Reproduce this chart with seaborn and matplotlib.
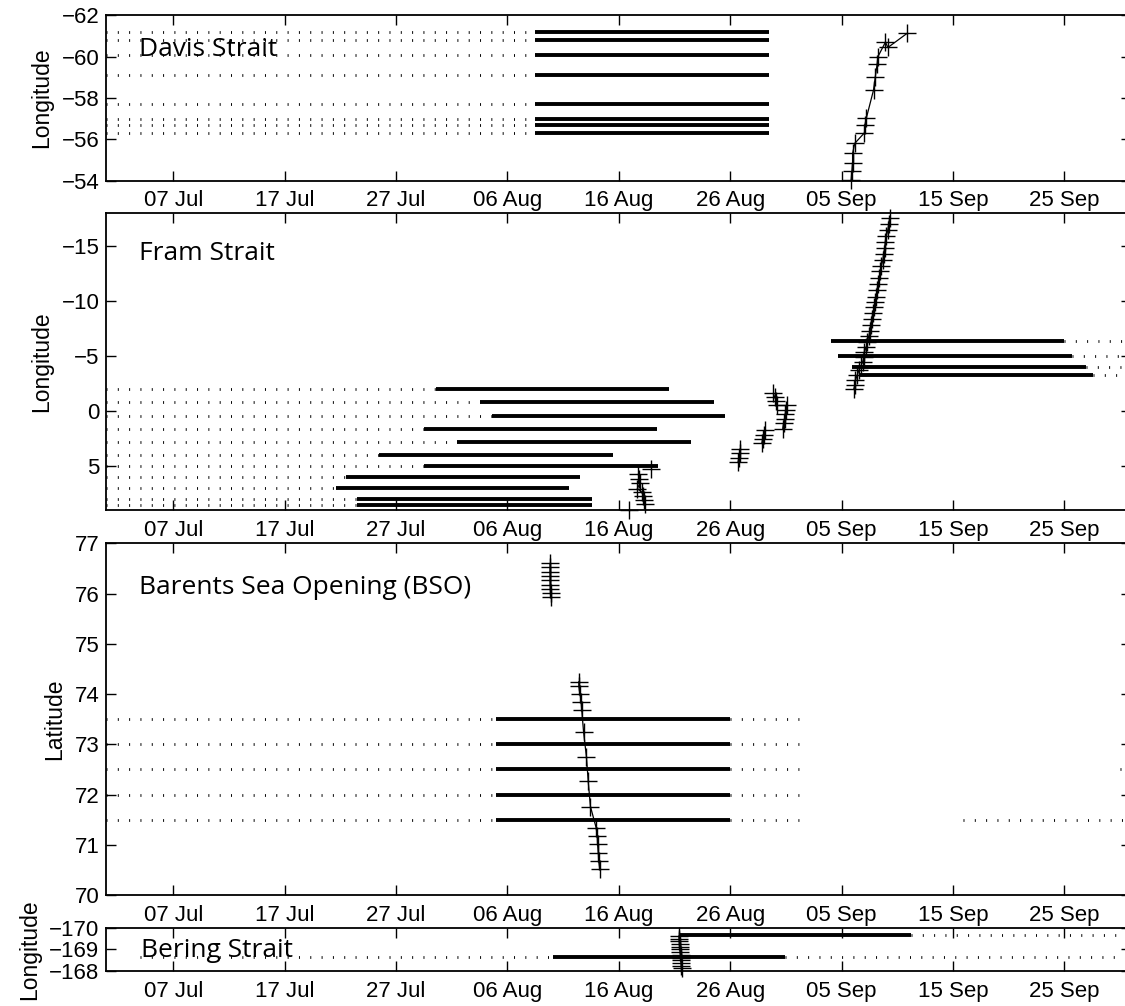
import numpy as np
import matplotlib
matplotlib.use("Agg")
import matplotlib.pyplot as plt
import matplotlib.dates as mdates
from matplotlib.ticker import FixedLocator
import seaborn as sns

sns.set_theme(style="ticks")
plt.rcParams["font.family"] = ["Liberation Sans", "DejaVu Sans"]
plt.rcParams["lines.scale_dashes"] = False
plt.rcParams["axes.unicode_minus"] = True

# ---------------------------------------------------------------------------
# Time axis: days after 1 July 2008
# ---------------------------------------------------------------------------
T0 = "2008-07-01"
X_RANGE = [0.0, 92.0]
TICK_DATES = ["2008-07-07", "2008-07-17", "2008-07-27", "2008-08-06",
              "2008-08-16", "2008-08-26", "2008-09-05", "2008-09-15",
              "2008-09-25"]

# ---------------------------------------------------------------------------
# Davis Strait moorings (longitude) and ship section
# ---------------------------------------------------------------------------
davis_lon = [-61.2, -60.8, -60.1, -59.1, -57.7, -57.0, -56.7, -56.3]
davis_lead = [0.0, 0.0, 0.0, 0.0, 0.0, 0.0, 0.0, 0.0]
davis_on = [38.5, 38.5, 38.5, 38.5, 38.5, 38.5, 38.5, 38.5]
davis_off = [59.5, 59.5, 59.5, 59.5, 59.5, 59.5, 59.5, 59.5]
davis_tail = [None, None, None, None, None, None, None, None]

davis_ship_day = [66.85, 66.92, 66.98, 66.98, 67.18, 68.05, 68.08, 68.21,
                  68.86, 69.02, 69.18, 69.25, 69.93, 70.15, 71.86]
davis_ship_lon = [-54.03, -54.48, -54.87, -55.32, -55.81, -56.32, -56.69,
                  -57.02, -58.39, -59.03, -59.63, -60.0, -60.71, -60.45,
                  -61.13]

# ---------------------------------------------------------------------------
# Fram Strait moorings (longitude) and ship sections
# ---------------------------------------------------------------------------
fram_lon = [-2.0, -0.8, 0.4, 1.6, 2.8, 4.0, 5.0, 6.0, 7.0, 8.0, 8.55,
            -6.4, -5.0, -4.05, -3.3]
fram_lead = [0.0, 0.0, 0.0, 0.0, 0.0, 0.0, 0.0, 0.0, 0.0, 0.0, 0.0,
             None, None, None, None]
fram_on = [29.6, 33.5, 34.6, 28.5, 31.5, 24.5, 28.55, 21.55, 20.6, 22.5, 22.5,
           65.05, 65.7, 66.9, 67.55]
fram_off = [50.5, 54.5, 55.55, 49.45, 52.45, 45.5, 49.5, 42.5, 41.55, 43.55,
            43.55, 86.0, 86.65, 87.9, 88.6]
fram_tail = [None, None, None, None, None, None, None, None, None, None, None,
             92.0, 92.0, 92.0, 92.0]

fram_ship_days = [
    [67.08, 67.18, 67.24, 67.40, 67.56, 67.73, 67.89, 67.99, 68.05, 68.21,
     68.31, 68.44, 68.53, 68.60, 68.70, 68.79, 68.92, 69.02, 69.12, 69.18,
     69.25, 69.38, 69.47, 69.57, 69.70, 69.76, 69.86, 69.93, 70.02, 70.15,
     70.22, 70.31],
    [56.90, 56.83, 56.77, 56.70],
    [59.09, 59.00, 58.90, 58.84],
    [59.87, 60.00, 60.13, 60.23],
    [61.10, 61.03, 60.94, 60.87, 60.78, 60.71],
    [48.89],
    [47.75, 47.84, 47.90, 47.66, 48.05, 48.20, 48.29, 48.38],
    [46.94],
]
fram_ship_lons = [
    [-1.98, -2.37, -2.83, -3.28, -3.74, -4.13, -4.50, -4.95, -5.41, -5.87,
     -6.32, -6.84, -7.33, -7.84, -8.36, -8.91, -9.45, -9.97, -10.43, -11.03,
     -11.58, -12.10, -12.71, -13.22, -13.77, -14.32, -14.83, -15.44, -15.96,
     -16.50, -17.05, -17.57],
    [3.40, 3.80, 4.22, 4.62],
    [1.73, 2.13, 2.52, 2.89],
    [-1.61, -1.25, -0.88, -0.52],
    [-0.55, -0.15, 0.27, 0.67, 1.12, 1.58],
    [5.22],
    [5.74, 6.14, 6.53, 7.05, 7.36, 7.75, 8.11, 8.48],
    [8.96],
]

# ---------------------------------------------------------------------------
# Barents Sea Opening moorings (latitude) and ship sections
# ---------------------------------------------------------------------------
bso_lat = [73.5, 73.0, 72.5, 72.0, 71.5, 71.5, 72.5]
bso_lead = [0.0, 0.0, 0.0, 0.0, 0.0, None, None]
bso_on = [35.0, 35.0, 35.0, 35.0, 35.0, None, None]
bso_off = [56.0, 56.0, 56.0, 56.0, 56.0, 76.9, 91.0]
bso_tail = [63.0, 63.0, 63.0, 63.0, 63.0, 92.0, 92.0]

bso_ship_days = [
    [39.83, 39.84, 39.84, 39.85, 39.85, 39.86, 39.86, 39.87, 39.87],
    [42.41, 42.41, 42.51, 42.61, 42.67, 42.83, 43.09, 43.25, 43.45, 43.96,
     44.06, 44.09, 44.16, 44.19, 44.29],
]
bso_ship_lats = [
    [76.60, 76.52, 76.43, 76.35, 76.27, 76.18, 76.10, 76.02, 75.94],
    [74.25, 74.16, 74.01, 73.85, 73.68, 73.25, 72.75, 72.26, 71.76, 71.34,
     71.17, 71.01, 70.84, 70.68, 70.51],
]

# ---------------------------------------------------------------------------
# Bering Strait moorings (longitude) and ship section
# ---------------------------------------------------------------------------
bering_lon = [-169.65, -168.63]
bering_lead = [None, 3.0]
bering_on = [51.4, 40.1]
bering_off = [72.25, 60.95]
bering_tail = [92.0, 92.0]

bering_ship_day = [51.40, 51.41, 51.44, 51.45, 51.48, 51.50, 51.51, 51.54,
                   51.56, 51.57, 51.60, 51.62, 51.64]
bering_ship_lon = [-169.63, -169.50, -169.38, -169.24, -169.12, -169.01,
                   -168.87, -168.76, -168.62, -168.50, -168.39, -168.25,
                   -168.13]

# ---------------------------------------------------------------------------
# Drawing helpers
# ---------------------------------------------------------------------------
BASE = mdates.date2num(np.datetime64(T0))


def tx(days):
    return BASE + np.asarray(days, dtype=float)


DOT = dict(color="black", lw=2.0, ls=(0, (0.7, 7.45)),
           dash_capstyle="butt", solid_capstyle="butt")
BAR = dict(color="black", lw=2.8, solid_capstyle="butt")


def moorings(ax, pos, lead, on, off, tail):
    for y, a, b, c, d in zip(pos, lead, on, off, tail):
        if b is None:
            # record without a full-rate segment: only sparse samples
            ax.plot(tx([c, d]), [y, y], **DOT)
            continue
        if a is not None:
            ax.plot(tx([a, b]), [y, y], **DOT)
        ax.plot(tx([b, c]), [y, y], **BAR)
        if d is not None:
            ax.plot(tx([c, d]), [y, y], **DOT)


def section(ax, days, vals):
    sns.lineplot(x=tx(days), y=vals, ax=ax, sort=False, estimator=None,
                 color="black", lw=0.9, marker="+", markersize=13,
                 markeredgecolor="black", markeredgewidth=1.0,
                 clip_on=False, legend=False)


def frame(ax, ylim, yticks, ylabel):
    ax.set_xlim(tx(X_RANGE))
    ax.set_ylim(*ylim)
    ax.xaxis.set_major_locator(FixedLocator(mdates.datestr2num(TICK_DATES)))
    ax.xaxis.set_major_formatter(mdates.DateFormatter("%d %b"))
    ax.yaxis.set_major_locator(FixedLocator(yticks))
    ax.set_ylabel(ylabel, fontsize=16.5, labelpad=6, color="black")
    ax.set_xlabel("")
    ax.tick_params(axis="both", which="major", direction="in", length=7,
                   width=1.0, labelsize=16, top=True, right=True,
                   colors="black")
    ax.tick_params(axis="x", pad=7)
    ax.tick_params(axis="y", pad=5)
    for s in ax.spines.values():
        s.set_linewidth(1.3)
        s.set_color("black")
        s.set_visible(True)


def label(ax, day, y, text):
    ax.text(BASE + day, y, text, fontsize=19, family=["Open Sans", "DejaVu Sans"],
            ha="left", va="baseline", zorder=1, color="black")


# ---------------------------------------------------------------------------
# Figure
# ---------------------------------------------------------------------------
fig = plt.figure(figsize=(11.25, 10.06), dpi=100)
L, W = 0.0946, 0.9110

ax_davis = fig.add_axes([L, 0.8204, W, 0.1642])
ax_fram = fig.add_axes([L, 0.4930, W, 0.2949])
ax_bso = fig.add_axes([L, 0.1103, W, 0.3496])
ax_ber = fig.add_axes([L, 0.0348, W, 0.0430])

moorings(ax_davis, davis_lon, davis_lead, davis_on, davis_off, davis_tail)
section(ax_davis, davis_ship_day, davis_ship_lon)
frame(ax_davis, (-54, -62), [-62, -60, -58, -56, -54], "Longitude")
label(ax_davis, 2.9, -60.04, "Davis Strait")

moorings(ax_fram, fram_lon, fram_lead, fram_on, fram_off, fram_tail)
for d, v in zip(fram_ship_days, fram_ship_lons):
    section(ax_fram, d, v)
frame(ax_fram, (9, -18), [-15, -10, -5, 0, 5], "Longitude")
label(ax_fram, 2.9, -13.75, "Fram Strait")

moorings(ax_bso, bso_lat, bso_lead, bso_on, bso_off, bso_tail)
for d, v in zip(bso_ship_days, bso_ship_lats):
    section(ax_bso, d, v)
frame(ax_bso, (70, 77), [70, 71, 72, 73, 74, 75, 76, 77], "Latitude")
label(ax_bso, 2.9, 76.0, "Barents Sea Opening (BSO)")

moorings(ax_ber, bering_lon, bering_lead, bering_on, bering_off, bering_tail)
section(ax_ber, bering_ship_day, bering_ship_lon)
frame(ax_ber, (-168, -170), [-170, -169, -168], "Longitude")
label(ax_ber, 3.1, -168.63, "Bering Strait")

fig.savefig("out.png", dpi=100)
